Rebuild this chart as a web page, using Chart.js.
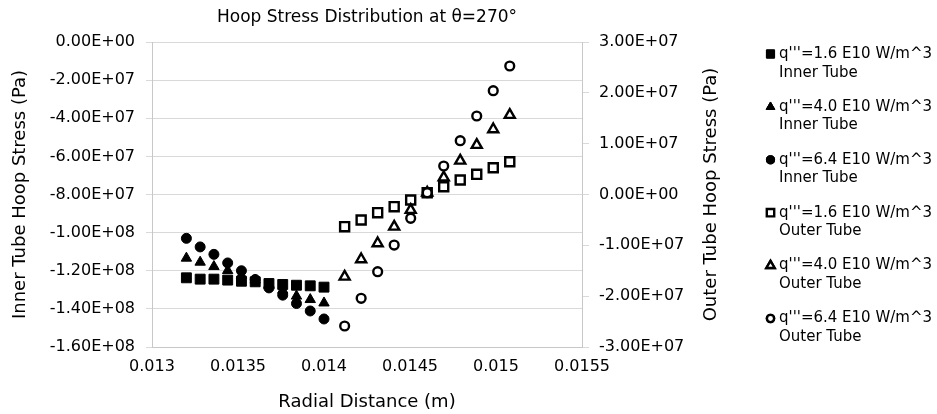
<!DOCTYPE html>
<html>
<head>
<meta charset="utf-8">
<script src="https://cdn.jsdelivr.net/npm/chart.js@4.4.1/dist/chart.umd.min.js"></script>
<style>
  html, body { margin: 0; padding: 0; background: #fff; }
  #wrap { width: 937px; height: 414px; }
</style>
</head>
<body>
<div id="wrap"><canvas id="myChart" width="937" height="414"></canvas></div>
<script>
// radial positions (m)
const innerR = [0.0132, 0.01328, 0.01336, 0.01344, 0.01352, 0.0136, 0.01368, 0.01376, 0.01384, 0.01392, 0.014];
const outerR = [0.01412, 0.014216, 0.014312, 0.014408, 0.014504, 0.0146, 0.014696, 0.014792, 0.014888, 0.014984, 0.01508];

// inner tube hoop stress (Pa), left axis
const inner16 = [-1.237e8, -1.244e8, -1.244e8, -1.249e8, -1.255e8, -1.258e8, -1.267e8, -1.272e8, -1.276e8, -1.279e8, -1.286e8];
const inner40 = [-1.134e8, -1.155e8, -1.178e8, -1.199e8, -1.223e8, -1.249e8, -1.276e8, -1.302e8, -1.333e8, -1.351e8, -1.369e8];
const inner64 = [-1.030e8, -1.075e8, -1.114e8, -1.159e8, -1.200e8, -1.246e8, -1.290e8, -1.328e8, -1.372e8, -1.411e8, -1.453e8];

// outer tube hoop stress (Pa), right axis
const outer16 = [-6.33e6, -5.02e6, -3.58e6, -2.40e6, -1.08e6, 3.5e5, 1.53e6, 2.85e6, 3.97e6, 5.27e6, 6.45e6];
const outer40 = [-1.617e7, -1.275e7, -9.60e6, -6.33e6, -3.05e6, 3.5e5, 3.34e6, 6.65e6, 9.74e6, 1.283e7, 1.564e7];
const outer64 = [-2.587e7, -2.042e7, -1.519e7, -9.94e6, -4.68e6, 3.5e5, 5.61e6, 1.058e7, 1.544e7, 2.042e7, 2.528e7];

const seriesLabels = [
    ["q'''=1.6 E10 W/m^3", "Inner Tube"],
    ["q'''=4.0 E10 W/m^3", "Inner Tube"],
    ["q'''=6.4 E10 W/m^3", "Inner Tube"],
    ["q'''=1.6 E10 W/m^3", "Outer Tube"],
    ["q'''=4.0 E10 W/m^3", "Outer Tube"],
    ["q'''=6.4 E10 W/m^3", "Outer Tube"]
];

const FONT = "'DejaVu Sans', sans-serif";

// 0.00E+00 style labels
function fmtE(v) {
    if (Math.abs(v) < 1e-6) return '0.00E+00';
    let parts = v.toExponential(2).split('e');
    let sign = parts[1][0];
    let digits = parts[1].slice(1).padStart(2, '0');
    return parts[0] + 'E' + sign + digits;
}

function pts(xs, ys) {
    return xs.map((x, i) => ({ x: x, y: ys[i] }));
}

// marker styles for each series
const markers = [
    { style: 'rect', r: 7, fill: '#000', bw: 1 },
    { style: 'triangle', r: 6, fill: '#000', bw: 1 },
    { style: 'circle', r: 5, fill: '#000', bw: 1 },
    { style: 'rect', r: 6.4, fill: '#fff', bw: 2.4 },
    { style: 'triangle', r: 5.8, fill: '#fff', bw: 2.4 },
    { style: 'circle', r: 4.4, fill: '#fff', bw: 2.4 }
];

const seriesData = [
    pts(innerR, inner16), pts(innerR, inner40), pts(innerR, inner64),
    pts(outerR, outer16), pts(outerR, outer40), pts(outerR, outer64)
];

let datasets = seriesData.map((d, i) => ({
    label: seriesLabels[i].join(' '),
    data: d,
    yAxisID: i < 3 ? 'y' : 'y2',
    pointStyle: markers[i].style,
    pointRadius: markers[i].r,
    pointBackgroundColor: markers[i].fill,
    pointBorderColor: '#000',
    pointBorderWidth: markers[i].bw,
    order: 6 - i,
    showLine: false
}));

// legend + right axis title drawn by hand (multi-line labels, bottom-to-top title)
const sideStuff = {
    id: 'sideStuff',
    afterDraw(chart) {
        const ctx = chart.ctx;
        ctx.save();
        // right axis title
        const area = chart.chartArea;
        ctx.translate(711, (area.top + area.bottom) / 2);
        ctx.rotate(-Math.PI / 2);
        ctx.font = '18px ' + FONT;
        ctx.fillStyle = '#000';
        ctx.textAlign = 'center';
        ctx.textBaseline = 'middle';
        ctx.fillText('Outer Tube Hoop Stress (Pa)', 0, 0);
        ctx.restore();

        ctx.save();
        ctx.font = '15px ' + FONT;
        ctx.textBaseline = 'middle';
        ctx.textAlign = 'left';
        ctx.fillStyle = '#000';
        seriesLabels.forEach((lines, i) => {
            const y = 54 + i * 52.9;
            const m = markers[i];
            Chart.helpers.drawPoint(ctx, {
                pointStyle: m.style,
                radius: m.r * 0.82,
                borderWidth: m.bw,
                rotation: 0
            }, 770.5, y);
            ctx.fillStyle = m.fill;
            ctx.strokeStyle = '#000';
            ctx.lineWidth = m.bw;
            ctx.fill();
            ctx.stroke();
            ctx.fillStyle = '#000';
            ctx.fillText(lines[0], 779, y);
            ctx.fillText(lines[1], 779, y + 18.7);
        });
        ctx.restore();
    }
};

let graphTarget = document.getElementById('myChart');

let chart = new Chart(graphTarget, {
    type: 'scatter',
    data: { datasets: datasets },
    plugins: [sideStuff],
    options: {
        responsive: false,
        animation: false,
        layout: { padding: { left: 0, right: 215, top: 0, bottom: 0 } },
        plugins: {
            legend: { display: false },
            tooltip: { enabled: false },
            title: {
                display: true,
                fullSize: false,
                text: 'Hoop Stress Distribution at θ=270°',
                color: '#000',
                font: { family: FONT, size: 17, weight: 'normal' },
                padding: { top: 7, bottom: 14.6 }
            }
        },
        scales: {
            x: {
                type: 'linear',
                min: 0.013,
                max: 0.0155,
                afterFit: (s) => { s.height = 67; },
                ticks: {
                    stepSize: 0.0005,
                    padding: 10,
                    color: '#000',
                    font: { family: FONT, size: 16 },
                    callback: (v) => String(Number(v.toFixed(5)))
                },
                grid: { drawOnChartArea: false, drawTicks: false },
                border: { display: true, color: '#c8c8c8', width: 1 },
                title: {
                    display: true,
                    text: 'Radial Distance (m)',
                    color: '#000',
                    font: { family: FONT, size: 18 },
                    padding: { top: 0, bottom: 1 }
                }
            },
            y: {
                type: 'linear',
                position: 'left',
                min: -1.6e8,
                max: 0,
                afterFit: (s) => { s.width = 152; },
                ticks: {
                    stepSize: 2e7,
                    padding: 11,
                    color: '#000',
                    font: { family: FONT, size: 16 },
                    callback: (v) => fmtE(v)
                },
                grid: { color: '#d9d9d9', tickLength: 6, lineWidth: 1 },
                border: { display: true, color: '#c8c8c8', width: 1 },
                title: {
                    display: true,
                    text: 'Inner Tube Hoop Stress (Pa)',
                    color: '#000',
                    font: { family: FONT, size: 18 },
                    padding: { top: 10, bottom: 0 }
                }
            },
            y2: {
                type: 'linear',
                position: 'right',
                min: -3e7,
                max: 3e7,
                afterFit: (s) => { s.width = 140; },
                ticks: {
                    stepSize: 1e7,
                    padding: 10,
                    color: '#000',
                    font: { family: FONT, size: 16 },
                    callback: (v) => fmtE(v)
                },
                grid: { drawOnChartArea: false, color: '#d9d9d9', tickLength: 7 },
                border: { display: true, color: '#c8c8c8', width: 1 }
            }
        }
    }
});
</script>
</body>
</html>
